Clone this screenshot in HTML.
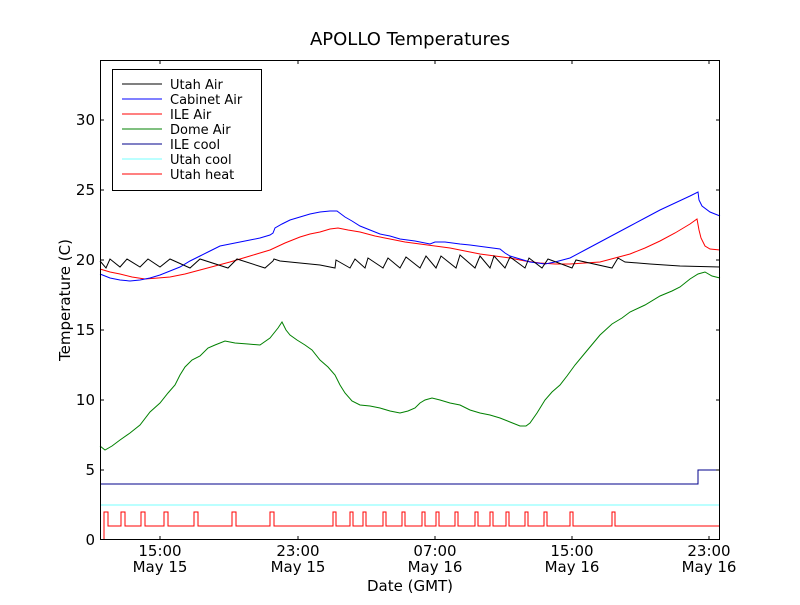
<!DOCTYPE html>
<html><head><meta charset="utf-8"><style>body{margin:0;background:#fff}</style></head><body>
<svg width="800" height="600" viewBox="0 0 800 600" xmlns="http://www.w3.org/2000/svg" font-family="'DejaVu Sans', 'Liberation Sans', sans-serif">
<rect width="800" height="600" fill="#fff"/>
<text x="410" y="45" font-size="18" text-anchor="middle">APOLLO Temperatures</text>
<g fill="none" stroke-width="1">
<polyline stroke="#f00" points="104,540 104,512 108,512 108,526 121,526 121,512 125,512 125,526 141,526 141,512 145,512 145,526 164,526 164,512 168,512 168,526 194,526 194,512 198,512 198,526 232,526 232,512 236,512 236,526 270,526 270,512 274,512 274,526 333,526 333,512 336,512 336,526 350,526 350,512 353,512 353,526 363,526 363,512 366,512 366,526 383,526 383,512 386,512 386,526 402,526 402,512 405,512 405,526 422,526 422,512 425,512 425,526 436,526 436,512 439,512 439,526 455,526 455,512 458,512 458,526 475,526 475,512 478,512 478,526 490,526 490,512 493,512 493,526 506,526 506,512 509,512 509,526 525,526 525,512 528,512 528,526 544,526 544,512 547,512 547,526 570,526 570,512 573,512 573,526 612,526 612,512 615,512 615,526 720,526"/>
<polyline stroke="#7ff" points="100,505 720,505"/>
<polyline stroke="#00008b" points="100,484 698,484 698,470 720,470"/>
<polyline stroke="#008000" points="100,446 105,450 112,446 120,440 130,433 140,425 150,412 160,403 168,393 175,385 180,375 185,367 192,360 200,356 208,348 215,345 225,341 235,343 248,344 260,345 270,338 278,328 282,322 286,330 290,335 297,340 305,345 312,350 320,360 328,367 335,375 340,385 345,393 352,401 360,405 370,406 380,408 390,411 400,413 408,411 415,408 420,403 425,400 432,398 440,400 450,403 460,405 470,410 480,413 490,415 500,418 510,422 520,426 526,426 530,423 537,413 545,400 552,392 560,385 567,376 575,365 585,353 600,335 612,324 622,318 630,312 645,305 660,296 672,291 680,287 690,279 698,274 705,272 712,276 720,278"/>
<polyline stroke="#f00" points="100,269 110,272 120,274 132,277 145,279 158,278 170,277 185,274 200,270 215,266 230,262 250,256 270,250 285,243 300,237 310,234 320,232 330,229 338,228 348,230 360,232 375,236 390,239 405,242 420,244 435,246 450,248 465,251 480,254 495,256 510,258 525,261 540,263 555,264 570,264 585,263 600,262 615,258 630,254 645,248 660,241 675,233 690,224 697,219 699,230 701,238 705,246 710,249 720,250"/>
<polyline stroke="#00f" points="100,274 110,278 120,280 130,281 140,280 150,278 160,275 170,271 180,267 190,261 200,256 210,251 220,246 230,244 240,242 250,240 260,238 270,235 273,233 275,228 282,224 290,220 300,217 310,214 320,212 330,211 337,211 341,214 345,217 352,221 360,226 370,230 380,234 390,236 400,239 415,241 430,244 435,242 445,242 460,244 470,245 485,247 500,249 505,253 510,256 520,259 530,262 545,264 555,262 570,258 585,250 600,242 615,234 630,226 645,218 660,210 675,203 690,196 698,192 699,200 702,206 710,212 720,216"/>
<polyline stroke="#000" points="100,261 106,268 110,259 120,267 127,259 140,267 148,259 160,267 170,259 190,268 200,259 228,268 237,259 265,268 273,261 274,259 280,261 300,263 320,265 335,268 336,260 350,268 355,259 365,268 368,258 383,268 388,258 400,268 406,257 420,268 426,256 436,268 441,256 456,268 460,255 475,268 480,256 490,268 494,256 505,268 510,257 525,268 529,258 542,268 548,259 572,268 576,260 612,268 618,258 625,262 650,264 680,266 720,267"/>
</g>
<rect x="100.5" y="60.5" width="619" height="479" fill="none" stroke="#000"/>
<g stroke="#000">
<path d="M100,470h4M100,400h4M100,330h4M100,260h4M100,190h4M100,120h4M720,470h-4M720,400h-4M720,330h-4M720,260h-4M720,190h-4M720,120h-4"/>
<path d="M160,540v-4M298,540v-4M435,540v-4M572,540v-4M709,540v-4M160,60v4M298,60v4M435,60v4M572,60v4M709,60v4"/>
</g>
<g font-size="15" text-anchor="end">
<text x="95" y="545">0</text><text x="95" y="475">5</text><text x="95" y="405">10</text><text x="95" y="335">15</text><text x="95" y="265">20</text><text x="95" y="195">25</text><text x="95" y="125">30</text>
</g>
<g font-size="15" text-anchor="middle">
<text x="160" y="556">15:00</text><text x="160" y="572">May 15</text>
<text x="298" y="556">23:00</text><text x="298" y="572">May 15</text>
<text x="435" y="556">07:00</text><text x="435" y="572">May 16</text>
<text x="572" y="556">15:00</text><text x="572" y="572">May 16</text>
<text x="709" y="556">23:00</text><text x="709" y="572">May 16</text>
<text x="410" y="591">Date (GMT)</text>
<text transform="translate(70,300) rotate(-90)">Temperature (C)</text>
</g>
<rect x="112.5" y="69.5" width="149" height="121" fill="#fff" stroke="#000"/>
<g stroke-width="1">
<path d="M122,84h40" stroke="#000"/><path d="M122,99h40" stroke="#00f"/><path d="M122,114h40" stroke="#f00"/><path d="M122,129h40" stroke="#008000"/><path d="M122,144h40" stroke="#00008b"/><path d="M122,159h40" stroke="#7ff"/><path d="M122,174h40" stroke="#f00"/>
</g>
<g font-size="13">
<text x="170" y="89">Utah Air</text><text x="170" y="104">Cabinet Air</text><text x="170" y="119">ILE Air</text><text x="170" y="134">Dome Air</text><text x="170" y="149">ILE cool</text><text x="170" y="164">Utah cool</text><text x="170" y="179">Utah heat</text>
</g>
</svg>
</body></html>
